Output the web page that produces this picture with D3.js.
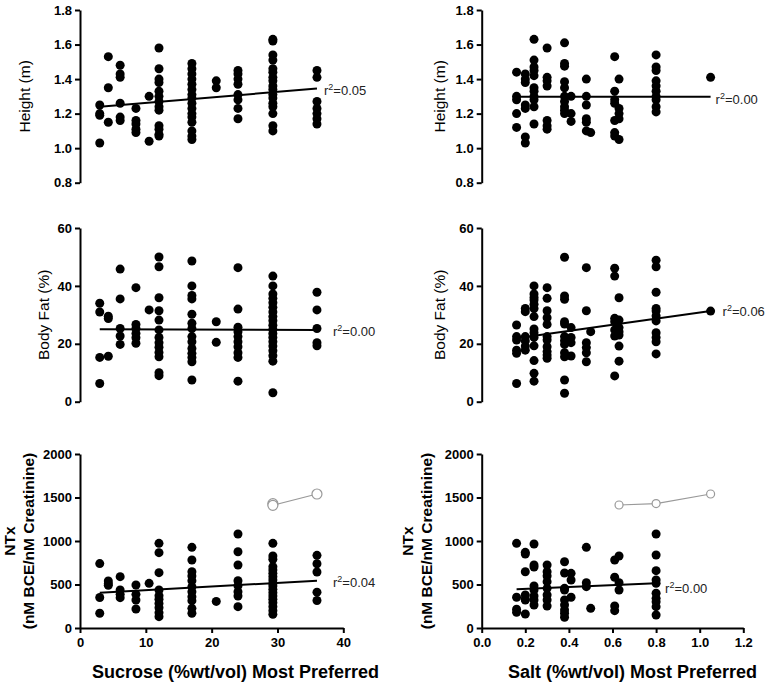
<!DOCTYPE html>
<html>
<head>
<meta charset="utf-8">
<script src="https://cdn.jsdelivr.net/npm/d3@7"></script>
<style>
  body { margin: 0; background: #fff; }
  text { font-family: Arial, "Liberation Sans", sans-serif; }
</style>
</head>
<body>
<svg id="chart" width="770" height="686"></svg>
<script>
// x levels (most preferred concentration)
const sucroseLevels = [3, 4.3, 6.1, 8.5, 10.5, 12, 17, 20.7, 24, 29.3, 36]
const saltLevels = [0.16, 0.2, 0.24, 0.3, 0.38, 0.41, 0.48, 0.5, 0.61, 0.63, 0.8, 1.05]

// y values, one list per x level
const heightBySucrose = [
  [1.25, 1.20, 1.19, 1.03],
  [1.53, 1.35, 1.15],
  [1.48, 1.43, 1.41, 1.26, 1.18, 1.16],
  [1.23, 1.16, 1.14, 1.11, 1.09],
  [1.30, 1.04],
  [1.58, 1.46, 1.40, 1.38, 1.33, 1.30, 1.27, 1.24, 1.22, 1.13, 1.11, 1.08, 1.07],
  [1.49, 1.46, 1.43, 1.40, 1.37, 1.34, 1.31, 1.29, 1.26, 1.23, 1.20, 1.18, 1.15, 1.10, 1.07, 1.05],
  [1.39, 1.35],
  [1.45, 1.43, 1.40, 1.37, 1.31, 1.28, 1.23, 1.17],
  [1.63, 1.62, 1.54, 1.51, 1.46, 1.44, 1.41, 1.39, 1.36, 1.34, 1.31, 1.29, 1.26, 1.24, 1.20, 1.13, 1.10],
  [1.45, 1.41, 1.27, 1.23, 1.20, 1.17, 1.14]
]
const heightBySalt = [
  [1.44, 1.30, 1.28, 1.20, 1.12],
  [1.43, 1.40, 1.38, 1.25, 1.23, 1.065, 1.03],
  [1.63, 1.51, 1.47, 1.45, 1.42, 1.35, 1.33, 1.30, 1.28, 1.24, 1.14],
  [1.58, 1.41, 1.39, 1.36, 1.16, 1.13, 1.11],
  [1.61, 1.49, 1.475, 1.385, 1.35, 1.30, 1.27, 1.24, 1.22, 1.20],
  [1.30, 1.20, 1.155],
  [1.40, 1.30, 1.25, 1.17, 1.15, 1.10],
  [1.09],
  [1.53, 1.33, 1.28, 1.26, 1.16, 1.09, 1.07],
  [1.40, 1.23, 1.20, 1.17, 1.05],
  [1.54, 1.47, 1.45, 1.39, 1.36, 1.33, 1.30, 1.28, 1.24, 1.21],
  [1.41]
]
const fatBySucrose = [
  [34, 31, 15.3, 6.3],
  [29.5, 28.7, 15.7],
  [45.8, 35.5, 25.3, 22.7, 19.8],
  [39.4, 26.7, 25.3, 23.6, 22.1, 20.2],
  [31.7],
  [50, 46.6, 35.9, 31.4, 28.2, 24.8, 22.2, 20.4, 18.8, 17.0, 15.5, 10.0, 9.0],
  [48.6, 40, 36.7, 35.5, 30.2, 27.1, 25.3, 22.5, 20.7, 18.4, 16.7, 15.3, 13.8, 7.5],
  [27.6, 20.5],
  [46.3, 32, 25.7, 24.2, 22.5, 20.7, 19, 16.9, 15.3, 7.1],
  [43.4, 40, 37.2, 35.7, 34.2, 32.6, 31, 29.4, 28, 26.4, 25, 23.6, 22.2, 20.7, 19.2, 17.6, 15.9, 14.0, 3.1],
  [37.8, 31.7, 25.3, 20.4, 19.3]
]
const fatBySalt = [
  [26.5, 22.5, 21.3, 17.8, 16.7, 6.3],
  [32.2, 31.1, 22.5, 21, 19.2, 17.8],
  [40, 37.2, 36, 35.1, 33.7, 32.2, 29.4, 25.1, 23.8, 22.2, 19.3, 14.2, 9.8, 7.1],
  [39.4, 35.7, 31.4, 29, 26.7, 22.5, 21.3, 19, 17.3, 16.1, 15],
  [49.9, 36.5, 35.4, 27.6, 26.8, 22.5, 21.1, 19.8, 16.9, 15.5, 7.5, 2.9],
  [25.6, 22.2, 20.4, 15.8],
  [46.3, 31.4, 20.4, 18.7, 16.9, 13.8],
  [24.2],
  [46.1, 43.4, 28.8, 27.6, 24.8, 22.7, 8.9],
  [35.9, 28.2, 25.6, 24.2, 23, 19.2, 14],
  [48.9, 46.6, 37.8, 32.2, 31.3, 29.6, 27.9, 23.8, 22.2, 20.7, 16.5],
  [31.3]
]
const ntxBySucrose = [
  [740, 350, 170],
  [540, 510, 490],
  [590, 437, 387, 349],
  [494, 387, 322, 218],
  [513],
  [973, 866, 636, 437, 372, 330, 283, 234, 176, 130],
  [927, 782, 647, 598, 544, 475, 418, 360, 314, 226, 169],
  [306],
  [1080, 877, 724, 544, 487, 418, 368, 245],
  [973, 828, 790, 705, 667, 628, 590, 552, 513, 483, 444, 406, 368, 330, 291, 245, 199, 157],
  [835, 738, 644, 412, 316]
]
const ntxBySalt = [
  [973, 353, 215, 180],
  [870, 850, 647, 379, 330, 322, 161],
  [966, 724, 700, 483, 437, 368, 322, 264],
  [724, 647, 598, 533, 456, 379, 322, 253],
  [762, 632, 456, 437, 322, 264, 207, 169, 123],
  [628, 552, 353],
  [927, 521, 475],
  [226],
  [782, 583, 253, 199],
  [828, 521, 437],
  [1080, 839, 659, 552, 513, 399, 341, 303, 245, 149],
  []
]

// excluded points (open circles)
const ntxOutSucroseX = [29.3, 29.3, 36]
const ntxOutSucroseY = [1430, 1410, 1540]
const ntxOutSaltX = [0.63, 0.8, 1.05]
const ntxOutSaltY = [1414, 1430, 1540]

// regression line ends [x, y]
const fitHeightSucrose = [[3, 1.24], [36, 1.345]]
const fitHeightSalt = [[0.16, 1.297], [1.05, 1.297]]
const fitFatSucrose = [[3, 25.0], [36, 24.8]]
const fitFatSalt = [[0.16, 21.9], [1.05, 31.3]]
const fitNtxSucrose = [[3, 405], [36, 544]]
const fitNtxSalt = [[0.16, 445], [0.8, 513]]

const r2Labels = ["0.05", "0.00", "0.00", "0.06", "0.04", "0.00"]

// tick labels
const sucroseTicks = [0, 10, 20, 30, 40]
const saltTicks = [0, 0.2, 0.4, 0.6, 0.8, 1.0, 1.2]
const heightTicks = [0.8, 1.0, 1.2, 1.4, 1.6, 1.8]
const fatTicks = [0, 20, 40, 60]
const ntxTicks = [0, 500, 1000, 1500, 2000]

const svg = d3.select("#chart")

const cols = [
  {range: [80, 343.3], domain: [0, 40], ticks: sucroseTicks, fmt: d3.format("d"), levels: sucroseLevels,
   title: "Sucrose (%wt/vol) Most Preferred", titleX: 92},
  {range: [481.7, 743.3], domain: [0, 1.2], ticks: saltTicks, fmt: d3.format(".1f"), levels: saltLevels,
   title: "Salt (%wt/vol) Most Preferred", titleX: 508}
]
const rows = [
  {range: [182.7, 10], domain: [0.8, 1.8], ticks: heightTicks, fmt: d3.format(".1f")},
  {range: [401.7, 228], domain: [0, 60], ticks: fatTicks, fmt: d3.format("d")},
  {range: [628, 454], domain: [0, 2000], ticks: ntxTicks, fmt: d3.format("d")}
]

const panels = [
  {c: 0, r: 0, values: heightBySucrose, fit: fitHeightSucrose, lab: [7, 6], title: ["Height (m)"], tx: [30], bold: false},
  {c: 1, r: 0, values: heightBySalt, fit: fitHeightSalt, lab: [5, 7], title: ["Height (m)"], tx: [445], bold: false},
  {c: 0, r: 1, values: fatBySucrose, fit: fitFatSucrose, lab: [16, 6], title: ["Body Fat (%)"], tx: [49], bold: false},
  {c: 1, r: 1, values: fatBySalt, fit: fitFatSalt, lab: [12, 5], title: ["Body Fat (%)"], tx: [445], bold: false},
  {c: 0, r: 2, values: ntxBySucrose, fit: fitNtxSucrose, lab: [16, 6], title: ["NTx", "(nM BCE/nM Creatinine)"], tx: [15, 34], bold: true,
   outX: ntxOutSucroseX, outY: ntxOutSucroseY, outR: 5},
  {c: 1, r: 2, values: ntxBySalt, fit: fitNtxSalt, lab: [9, 10], title: ["NTx", "(nM BCE/nM Creatinine)"], tx: [413, 432], bold: true,
   outX: ntxOutSaltX, outY: ntxOutSaltY, outR: 4}
]

panels.forEach((p, i) => {
  const col = cols[p.c], row = rows[p.r]
  const x = d3.scaleLinear().domain(col.domain).range(col.range)
  const y = d3.scaleLinear().domain(row.domain).range(row.range)
  const g = svg.append("g")

  // y axis
  g.append("g")
    .attr("transform", `translate(${col.range[0]},0)`)
    .call(d3.axisLeft(y).tickValues(row.ticks).tickFormat(row.fmt).tickSize(5).tickSizeOuter(0).tickPadding(3))
  // x axis only on the bottom row
  if (p.r === 2) {
    g.append("g")
      .attr("transform", `translate(0,${row.range[0]})`)
      .call(d3.axisBottom(x).tickValues(col.ticks).tickFormat(col.fmt).tickSize(5).tickSizeOuter(0).tickPadding(5))
    svg.append("text")
      .attr("x", col.titleX)
      .attr("y", 678)
      .attr("font-size", 18)
      .attr("font-weight", "bold")
      .text(col.title)
  }
  g.selectAll(".domain, .tick line").attr("stroke", "#000").attr("stroke-width", 2)
  g.selectAll(".tick text").attr("font-size", 13).attr("font-weight", "bold").attr("fill", "#000")
    .attr("font-family", "Arial, 'Liberation Sans', sans-serif")

  // points
  const pts = []
  p.values.forEach((vals, k) => vals.forEach(v => pts.push([col.levels[k], v])))
  g.selectAll("circle.pt")
    .data(pts)
    .enter()
    .append("circle")
    .attr("class", "pt")
    .attr("cx", d => x(d[0]))
    .attr("cy", d => y(d[1]))
    .attr("r", 4.5)
    .attr("fill", "#000")

  // regression line
  g.append("line")
    .attr("x1", x(p.fit[0][0])).attr("y1", y(p.fit[0][1]))
    .attr("x2", x(p.fit[1][0])).attr("y2", y(p.fit[1][1]))
    .attr("stroke", "#000")
    .attr("stroke-width", 2)

  // outliers
  if (p.outX) {
    const out = p.outX.map((v, k) => [v, p.outY[k]])
    g.append("path")
      .attr("d", d3.line().x(d => x(d[0])).y(d => y(d[1]))(out))
      .attr("fill", "none")
      .attr("stroke", "#999")
      .attr("stroke-width", 1.2)
    g.selectAll("circle.out")
      .data(out)
      .enter()
      .append("circle")
      .attr("class", "out")
      .attr("cx", d => x(d[0]))
      .attr("cy", d => y(d[1]))
      .attr("r", p.outR)
      .attr("fill", "#fff")
      .attr("stroke", "#999")
      .attr("stroke-width", 1.2)
  }

  // r2 label
  const lab = g.append("text")
    .attr("x", x(p.fit[1][0]) + p.lab[0])
    .attr("y", y(p.fit[1][1]) + p.lab[1])
    .attr("font-size", 13)
    .attr("fill", "#222")
  lab.append("tspan").text("r")
  lab.append("tspan").attr("font-size", 9).attr("dy", -5).text("2")
  lab.append("tspan").attr("dy", 5).text("=" + r2Labels[i])

  // y title
  const cy = (row.range[0] + row.range[1]) / 2
  p.title.forEach((t, k) => {
    svg.append("text")
      .attr("transform", `translate(${p.tx[k]},${cy}) rotate(-90)`)
      .attr("text-anchor", "middle")
      .attr("font-size", 15.5)
      .attr("font-weight", p.bold ? "bold" : "normal")
      .text(t)
  })
})
</script>
</body>
</html>
